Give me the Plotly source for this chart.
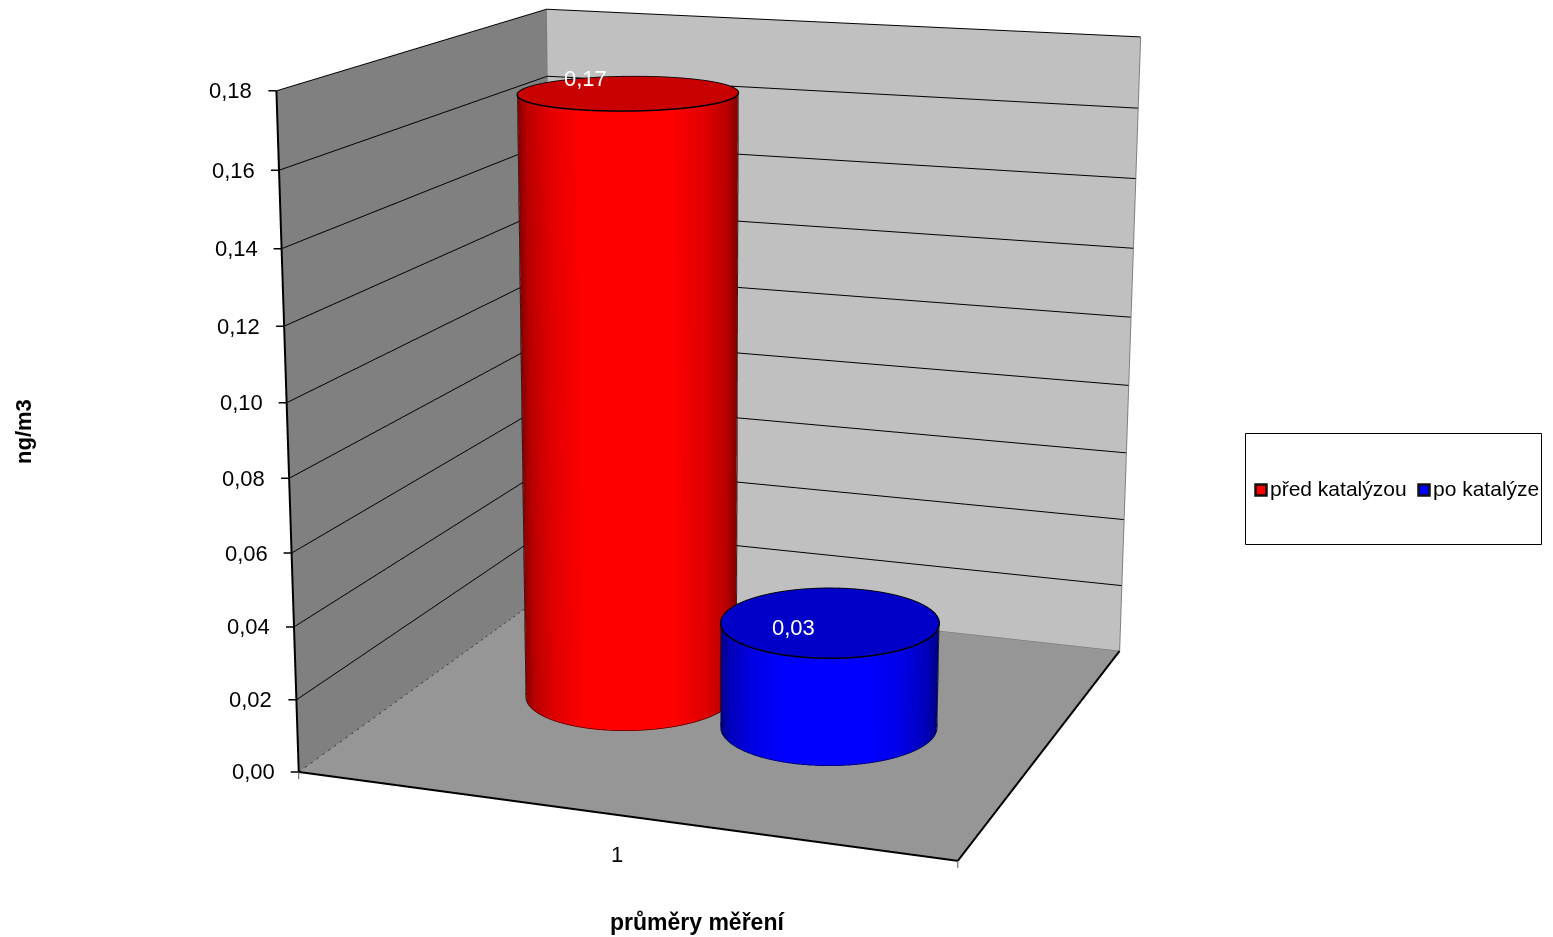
import numpy as np
import plotly.graph_objects as go

# Chart data
categories = ["1"]
series_names = ["před katalýzou", "po katalýze"]
series_values = [0.17, 0.03]
value_labels = ["0,17", "0,03"]
z_ticks = [0.00, 0.02, 0.04, 0.06, 0.08, 0.10, 0.12, 0.14, 0.16, 0.18]
z_tick_labels = ["0,00", "0,02", "0,04", "0,06", "0,08", "0,10", "0,12", "0,14", "0,16", "0,18"]
x_title = "průměry měření"
y_title = "ng/m3"

# Styling
side_colors = [
    [[0, "#ff0000"], [0.4, "#ff0000"], [0.7, "#e00000"], [0.9, "#b80000"], [1, "#800000"]],
    [[0, "#0000ff"], [0.4, "#0000ff"], [0.7, "#0000e0"], [0.9, "#0000b8"], [1, "#000080"]],
]
cap_colors = ["#c80000", "#0000c8"]
swatch_colors = ["#ff0000", "#0000ff"]
FONT = "Liberation Sans"
FONT_SIZE = 21
NUMBER_SIZE = 22

# Scene geometry: cylinder placement as fractions of the floor
ASPECT = dict(x=1.042, y=1.008, z=1.045)
EYE = dict(x=1.6702, y=-4.6968, z=1.2246)
CENTER = dict(x=-0.0400, y=-0.0468, z=-0.0676)
FOVY = 0.268
cyl_x = [0.3305, 0.668]
cyl_y = [0.509, 0.47]
RADIUS_X = 0.17  # scene units
RADIUS_Y = 0.18
Z_MAX = 0.18


def ring(i, radius_scale=1.0, n=181):
    t = np.linspace(0, 2 * np.pi, n)
    return (
        cyl_x[i] + radius_scale * RADIUS_X * np.cos(t) / ASPECT["x"],
        cyl_y[i] + radius_scale * RADIUS_Y * np.sin(t) / ASPECT["y"],
    )


def add_line(fig, xs, ys, zs, color="#000000", width=2, dash="solid"):
    fig.add_trace(go.Scatter3d(
        x=xs, y=ys, z=zs, mode="lines", showlegend=False, hoverinfo="skip",
        line=dict(color=color, width=width, dash=dash),
    ))


fig = go.Figure()
flat = dict(ambient=1, diffuse=0, specular=0, roughness=1, fresnel=0)

for i, value in enumerate(series_values):
    n = 181
    t = np.linspace(0, 2 * np.pi, n)
    rx, ry = ring(i)
    # horizontal direction from the cylinder axis to the eye, in scene units
    dx = EYE["x"] - (cyl_x[i] - 0.5) * ASPECT["x"]
    dy = EYE["y"] - (cyl_y[i] - 0.5) * ASPECT["y"]
    dist = np.hypot(dx, dy)
    px, py = -dy / dist, dx / dist
    shade = np.abs(np.cos(t) * px + np.sin(t) * py)

    heights = np.array([0.0, value])
    fig.add_trace(go.Surface(
        x=np.vstack([rx, rx]), y=np.vstack([ry, ry]),
        z=np.vstack([np.full(n, heights[0]), np.full(n, heights[1])]),
        surfacecolor=np.vstack([shade, shade]),
        colorscale=side_colors[i], cmin=0, cmax=1, showscale=False,
        lighting=flat, hoverinfo="skip", name=series_names[i],
    ))

    # top cap
    radial = np.linspace(0, 1, 2)
    cap_x = cyl_x[i] + np.outer(radial, rx - cyl_x[i])
    cap_y = cyl_y[i] + np.outer(radial, ry - cyl_y[i])
    fig.add_trace(go.Surface(
        x=cap_x, y=cap_y, z=np.full_like(cap_x, value),
        surfacecolor=np.zeros_like(cap_x),
        colorscale=[[0, cap_colors[i]], [1, cap_colors[i]]], cmin=0, cmax=1,
        showscale=False, lighting=flat, hoverinfo="skip",
    ))

    # outlines: rim, foot and the two silhouette edges
    add_line(fig, *ring(i, 1.004), np.full(n, value), width=3)
    add_line(fig, *ring(i, 1.004), np.full(n, 0.0002), width=1)
    phi = np.arctan2(dy, dx) + np.array([1, -1]) * np.arccos(RADIUS_X / dist)
    for p in phi:
        ex = cyl_x[i] + 1.004 * RADIUS_X * np.cos(p) / ASPECT["x"]
        ey = cyl_y[i] + 1.004 * RADIUS_Y * np.sin(p) / ASPECT["y"]
        add_line(fig, [ex, ex], [ey, ey], [0, value], width=1)

# box edges that frame the walls and the floor
add_line(fig, [0, 1], [0, 0], [0, 0], width=4)
add_line(fig, [1, 1], [0, 1], [0, 0], width=4)
add_line(fig, [0, 0], [0, 0], [0, Z_MAX], width=4)
add_line(fig, [0, 0], [0, 1], [0, 0], color="#303030", width=1.5, dash="dash")
add_line(fig, [0, 1], [1, 1], [0, 0], color="#707070", width=1)
add_line(fig, [0, 0], [1, 1], [0, Z_MAX], color="#707070", width=1)
add_line(fig, [1, 1], [1, 1], [0, Z_MAX], color="#808080", width=2)

hidden = dict(showticklabels=False, ticks="", showgrid=False, zeroline=False,
              showline=False, showspikes=False, title=dict(text=""))

# value labels, category label and the value axis labels with their tick marks
scene_annotations = [
    dict(x=cyl_x[0], y=cyl_y[0], z=series_values[0], text=value_labels[0], showarrow=False,
         xshift=-43, yshift=15, font=dict(family=FONT, size=NUMBER_SIZE, color="#ffffff")),
    dict(x=cyl_x[1], y=cyl_y[1], z=series_values[1], text=value_labels[1], showarrow=False,
         xshift=-36, yshift=-5, font=dict(family=FONT, size=NUMBER_SIZE, color="#ffffff")),
    dict(x=0.5, y=0, z=0, text=categories[0], showarrow=False, xshift=1, yshift=-40,
         font=dict(family=FONT, size=NUMBER_SIZE, color="#000000")),
]
for tick, label in zip(z_ticks, z_tick_labels):
    scene_annotations.append(dict(
        x=0, y=0, z=tick, text=label, showarrow=True, arrowhead=0, arrowwidth=1.5,
        arrowcolor="#000000", ax=-22, ay=0, startstandoff=14, standoff=0,
        xanchor="right", yanchor="middle",
        font=dict(family=FONT, size=NUMBER_SIZE, color="#000000"),
    ))
# short marks below the front corners of the floor
for corner in [0, 1]:
    scene_annotations.append(dict(
        x=corner, y=0, z=0, text="\u00a0", showarrow=True, arrowhead=0, arrowwidth=1,
        arrowcolor="#555555", ax=0, ay=9, standoff=0, font=dict(family=FONT, size=1),
    ))

fig.update_layout(
    width=1553, height=937, autosize=False, showlegend=False,
    margin=dict(l=0, r=0, t=0, b=0),
    paper_bgcolor="#ffffff", hovermode=False,
    font=dict(family=FONT, size=FONT_SIZE, color="#000000"),
    scene=dict(
        domain=dict(x=[0, 1396 / 1553], y=[1 - 880 / 937, 1]),
        aspectmode="manual", aspectratio=ASPECT,
        camera=dict(eye=EYE, center=CENTER, up=dict(x=0, y=0, z=1),
                    projection=dict(type="perspective")),
        bgcolor="rgba(0,0,0,0)",
        xaxis=dict(hidden | dict(showbackground=True, backgroundcolor="#808080"), range=[0, 1]),
        yaxis=dict(hidden | dict(showbackground=True, backgroundcolor="#c0c0c0"), range=[0, 1]),
        zaxis=dict(
            range=[0, Z_MAX], tickvals=z_ticks[1:], ticktext=z_tick_labels[1:],
            showticklabels=False, ticks="",
            showgrid=True, gridcolor="#000000", gridwidth=2, zeroline=False,
            showline=False, showspikes=False, showbackground=True,
            backgroundcolor="#969696", title=dict(text=""),
        ),
        annotations=scene_annotations,
    ),
    shapes=[
        dict(type="rect", xref="paper", yref="paper", x0=1245.5 / 1553, x1=1541.5 / 1553,
             y0=1 - 544.5 / 937, y1=1 - 433.5 / 937, line=dict(color="#000000", width=1),
             fillcolor="#ffffff"),
        dict(type="rect", xref="paper", yref="paper", x0=1255.5 / 1553, x1=1266.5 / 1553,
             y0=1 - 495.5 / 937, y1=1 - 484.5 / 937, line=dict(color="#111111", width=2.5),
             fillcolor=swatch_colors[0]),
        dict(type="rect", xref="paper", yref="paper", x0=1418.5 / 1553, x1=1429.5 / 1553,
             y0=1 - 495.5 / 937, y1=1 - 484.5 / 937, line=dict(color="#111111", width=2.5),
             fillcolor=swatch_colors[1]),
    ],
    annotations=[
        dict(xref="paper", yref="paper", x=1268 / 1553, y=1 - 489 / 937, text=series_names[0],
             showarrow=False, xanchor="left", yanchor="middle", font=dict(size=FONT_SIZE)),
        dict(xref="paper", yref="paper", x=1431 / 1553, y=1 - 489 / 937, text=series_names[1],
             showarrow=False, xanchor="left", yanchor="middle", font=dict(size=FONT_SIZE)),
        dict(xref="paper", yref="paper", x=697 / 1553, y=1 - 922 / 937, text="<b>%s</b>" % x_title,
             showarrow=False, xanchor="center", yanchor="middle", font=dict(size=23)),
        dict(xref="paper", yref="paper", x=23 / 1553, y=1 - 432 / 937, text="<b>%s</b>" % y_title,
             showarrow=False, textangle=-90, xanchor="center", yanchor="middle",
             font=dict(size=22)),
    ],
)

# The scene keeps a wide default lens; narrow it for a flatter perspective.
lens_script = """
var gd = document.getElementById('{plot_id}');
function narrowLens() {
  var s = gd._fullLayout && gd._fullLayout.scene && gd._fullLayout.scene._scene;
  if (s && s.glplot) { s.glplot.fovy = %f; s.glplot.redraw(); }
  else { setTimeout(narrowLens, 20); }
}
narrowLens();
""" % FOVY

fig.write_html("out.html", post_script=lens_script)
